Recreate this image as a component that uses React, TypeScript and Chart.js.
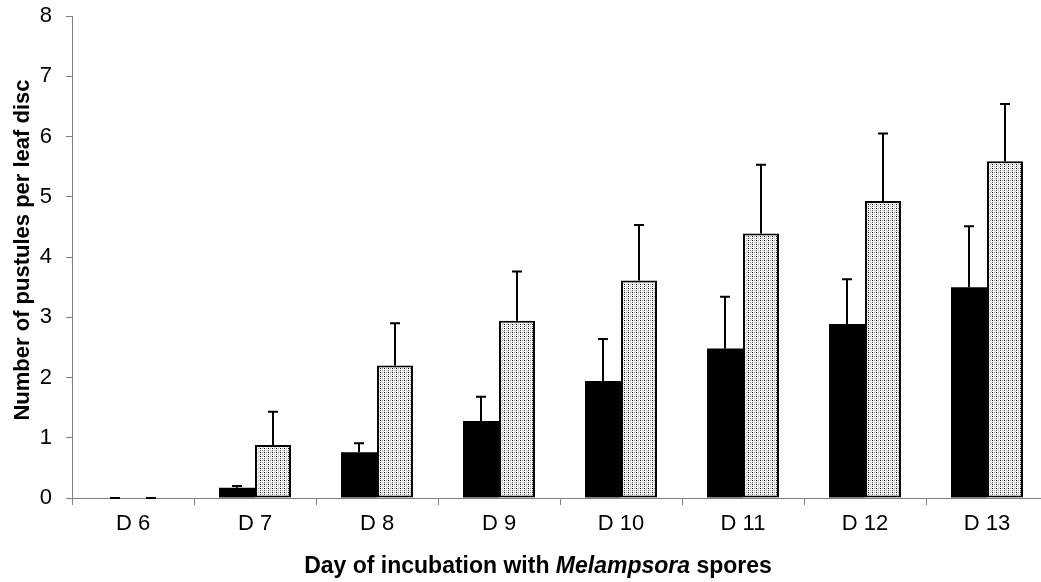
import React, { useEffect, useRef } from "react";
import { Chart, registerables } from "chart.js";

Chart.register(...registerables);

const categories = ["D 6", "D 7", "D 8", "D 9", "D 10", "D 11", "D 12", "D 13"];
const blackMeans = [0, 0.17, 0.76, 1.28, 1.94, 2.48, 2.89, 3.5];
const blackErrors = [0, 0.03, 0.15, 0.4, 0.7, 0.86, 0.74, 1.01];
const dottedMeans = [0, 0.88, 2.2, 2.94, 3.61, 4.39, 4.93, 5.59];
const dottedErrors = [0, 0.55, 0.7, 0.82, 0.92, 1.14, 1.12, 0.95];
const yTickValues = [0, 1, 2, 3, 4, 5, 6, 7, 8];

const FONT = "'Liberation Sans', Arial, sans-serif";

function makePattern(ctx: CanvasRenderingContext2D): CanvasPattern | string {
  const c = document.createElement("canvas");
  c.width = 4;
  c.height = 4;
  const p = c.getContext("2d")!;
  p.fillStyle = "#ffffff";
  p.fillRect(0, 0, 4, 4);
  const dots: [number, number, string][] = [
    [0, 0, "#000000"],
    [2, 0, "#9a9a9a"],
    [0, 2, "#555555"],
    [2, 2, "#bbbbbb"],
    [1, 1, "#dddddd"],
    [3, 3, "#cccccc"],
  ];
  dots.forEach(([x, y, col]) => {
    p.fillStyle = col;
    p.fillRect(x, y, 1, 1);
  });
  return ctx.createPattern(c, "repeat") || "#cccccc";
}

export default function App() {
  const ref = useRef<HTMLCanvasElement>(null);

  useEffect(() => {
    document.body.style.margin = "0";
    document.body.style.overflow = "hidden";
    const canvas = ref.current!;
    const ctx = canvas.getContext("2d")!;
    const pattern = makePattern(ctx);
    const errs = [blackErrors, dottedErrors];
    const means = [blackMeans, dottedMeans];

    const errorBarPlugin = {
      id: "errorBars",
      afterDatasetsDraw(chart: any) {
        const c = chart.ctx;
        const yScale = chart.scales.y;
        c.save();
        c.strokeStyle = "#000";
        c.lineWidth = 2;
        chart.data.datasets.forEach((_: any, di: number) => {
          const meta = chart.getDatasetMeta(di);
          meta.data.forEach((el: any, i: number) => {
            const top = yScale.getPixelForValue(means[di][i] + errs[di][i]);
            const base = yScale.getPixelForValue(means[di][i]);
            const x = Math.round(el.x);
            c.beginPath();
            c.moveTo(x, base);
            c.lineTo(x, top);
            c.moveTo(x - 5, top);
            c.lineTo(x + 5, top);
            c.stroke();
          });
        });
        c.restore();
      },
    };

    const titlePlugin = {
      id: "titles",
      afterDraw(chart: any) {
        const c = chart.ctx;
        c.save();
        c.fillStyle = "#000";
        c.textBaseline = "middle";
        const parts: [string, string][] = [
          ["Day of incubation with ", `bold 23px ${FONT}`],
          ["Melampsora", `italic bold 23px ${FONT}`],
          [" spores", `bold 23px ${FONT}`],
        ];
        let total = 0;
        parts.forEach(([t, f]) => {
          c.font = f;
          total += c.measureText(t).width;
        });
        let x = 538 - total / 2;
        c.textAlign = "left";
        parts.forEach(([t, f]) => {
          c.font = f;
          c.fillText(t, x, 567);
          x += c.measureText(t).width;
        });
        c.translate(23, 250);
        c.rotate(-Math.PI / 2);
        c.textAlign = "center";
        c.font = `bold 22px ${FONT}`;
        c.fillText("Number of pustules per leaf disc", 0, 0);
        c.restore();
      },
    };

    const chart = new Chart(ctx, {
      type: "bar",
      data: {
        labels: categories,
        datasets: [
          {
            label: "Black",
            data: blackMeans,
            backgroundColor: "#000000",
            borderWidth: 0,
            categoryPercentage: 0.59,
            barPercentage: 1,
          },
          {
            label: "Dotted",
            data: dottedMeans,
            backgroundColor: pattern as any,
            borderColor: "#000000",
            borderWidth: 2,
            borderSkipped: false,
            categoryPercentage: 0.59,
            barPercentage: 1,
          },
        ],
      },
      options: {
        responsive: false,
        animation: false,
        devicePixelRatio: 1,
        layout: { padding: { top: 16, right: 0, left: 0, bottom: 0 } },
        plugins: {
          legend: { display: false },
          tooltip: { enabled: false },
        },
        scales: {
          x: {
            offset: true,
            grid: {
              display: true,
              drawOnChartArea: false,
              drawTicks: true,
              tickLength: 7,
              color: "#808080",
              offset: true,
            },
            border: { display: true, color: "#808080", width: 1 },
            ticks: {
              color: "#000",
              font: { family: FONT, size: 22 },
              padding: 6,
            },
            afterFit(scale: any) {
              scale.height = 84;
              scale.paddingLeft = 0;
              scale.paddingRight = 0;
            },
          },
          y: {
            min: 0,
            max: 8,
            afterBuildTicks(scale: any) {
              scale.ticks = yTickValues.map((v) => ({ value: v }));
            },
            grid: {
              display: true,
              drawOnChartArea: false,
              drawTicks: true,
              tickLength: 6,
              color: "#808080",
            },
            border: { display: true, color: "#808080", width: 1 },
            ticks: {
              color: "#000",
              font: { family: FONT, size: 22 },
              padding: 14,
            },
            afterFit(scale: any) {
              scale.width = 72;
              scale.paddingTop = 0;
              scale.paddingBottom = 0;
            },
          },
        },
      },
      plugins: [errorBarPlugin, titlePlugin],
    });
    return () => chart.destroy();
  }, []);

  return (
    <div style={{ width: 1041, height: 582, overflow: "hidden" }}>
      <canvas ref={ref} width={1048} height={582} style={{ display: "block" }} />
    </div>
  );
}
